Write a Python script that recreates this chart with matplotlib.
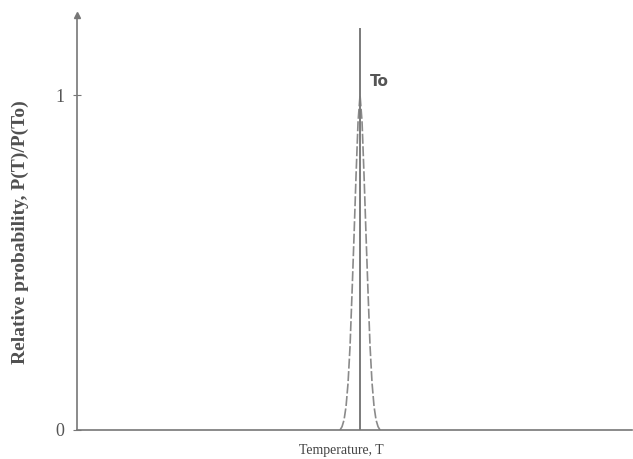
import matplotlib
matplotlib.use("Agg")
import matplotlib.pyplot as plt

# Data (temperature in arbitrary units, T0 = 283)
T0 = 283
temps = [263, 265, 267, 269, 271, 273, 275, 277, 279, 281, 283,
         285, 287, 289, 291, 293, 295, 297, 299, 301, 303]
rel_prob = [0.00, 0.01, 0.03, 0.07, 0.14, 0.25, 0.41, 0.58, 0.76, 0.92, 1.00,
            0.92, 0.76, 0.58, 0.41, 0.25, 0.14, 0.07, 0.03, 0.01, 0.00]
y_ticks = [0, 1]
y_tick_labels = ["0", "1"]
line_top = 1.197

fig = plt.figure(figsize=(6.33, 4.59), dpi=100)
ax = fig.add_axes([0.1216, 0.0632, 0.877, 0.904])
ax.set_xlim(0, 555)
ax.set_ylim(0, 1.239)

gray = "#8a8a8a"
ax.plot(temps, rel_prob, color=gray, lw=1.2, ls=(0, (6, 1.5)))
ax.plot([T0, T0], [0, line_top], color="#7a7a7a", lw=1.4)

ax.text(T0 + 10, 1.04, "To", fontsize=11, fontweight="bold", color="#555555",
        family="DejaVu Sans", va="center", ha="left")

for s in ["top", "right"]:
    ax.spines[s].set_visible(False)
ax.spines["left"].set_color("#777777")
ax.spines["bottom"].set_color("#777777")
ax.spines["left"].set_linewidth(1.2)
ax.spines["bottom"].set_linewidth(1.2)
ax.plot(0, 1.239, marker="^", color="#777777", markersize=4, clip_on=False,
        transform=ax.transData)

ax.set_xticks([])
ax.set_yticks(y_ticks)
ax.set_yticklabels(y_tick_labels, family="Liberation Serif", fontsize=13, color="#555555")
ax.tick_params(axis="y", direction="inout", length=6, color="#777777", pad=6)

ax.set_xlabel("Temperature, T", family="Liberation Serif", fontsize=10,
              color="#444444")
ax.xaxis.set_label_coords(0.476, -0.033)
ax.xaxis.label.set_va("top")
ax.set_ylabel("Relative probability, P(T)/P(To)", family="Liberation Serif",
              fontsize=14, fontweight="bold", color="#505050")
ax.yaxis.set_label_coords(-0.0865, 0.477)

fig.savefig("out.png", dpi=100, facecolor="white")
